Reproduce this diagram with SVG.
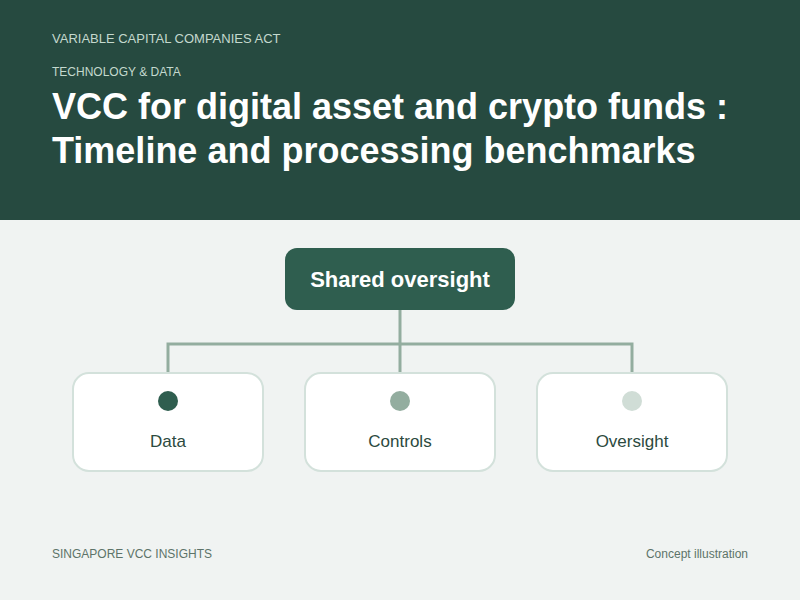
<svg xmlns="http://www.w3.org/2000/svg" width="800" height="600" viewBox="0 0 800 600">
<style>
text{font-family:"Liberation Sans",Arial,sans-serif}
.kicker{fill:#c4d9ce}
.title{fill:#ffffff;font-size:36px;font-weight:bold}
.child{fill:#ffffff;stroke:#d3e1db;stroke-width:2}
.lbl{fill:#2c4a40;font-size:17px;text-anchor:middle}
.conn{fill:none;stroke:#93ad9f;stroke-width:3}
.foot{fill:#5d7369;font-size:12px}
</style>
<rect width="800" height="600" fill="#f0f3f2"/>
<rect width="800" height="220" fill="#264a40"/>
<text x="52" y="43" class="kicker" font-size="13">VARIABLE CAPITAL COMPANIES ACT</text>
<text x="52" y="76" class="kicker" font-size="12">TECHNOLOGY &amp; DATA</text>
<text x="52" y="119" class="title">VCC for digital asset and crypto funds :</text>
<text x="52" y="163" class="title">Timeline and processing benchmarks</text>
<g id="connectors">
<path class="conn" d="M400 310V344M168 372V344H632V372M400 344V372"/>
</g>
<g id="root">
<rect x="285" y="248" width="230" height="62" rx="12" fill="#2f5e4f"/>
<text x="400" y="287" fill="#ffffff" font-size="22" font-weight="bold" text-anchor="middle">Shared oversight</text>
</g>
<g id="data">
<rect class="child" x="73" y="373" width="190" height="98" rx="16"/>
<circle cx="168" cy="401" r="10" fill="#2f5e4f"/>
<text x="168" y="447" class="lbl">Data</text>
</g>
<g id="controls">
<rect class="child" x="305" y="373" width="190" height="98" rx="16"/>
<circle cx="400" cy="401" r="10" fill="#93ad9f"/>
<text x="400" y="447" class="lbl">Controls</text>
</g>
<g id="oversight">
<rect class="child" x="537" y="373" width="190" height="98" rx="16"/>
<circle cx="632" cy="401" r="10" fill="#d0ddd6"/>
<text x="632" y="447" class="lbl">Oversight</text>
</g>
<text x="52" y="558" class="foot">SINGAPORE VCC INSIGHTS</text>
<text x="748" y="558" class="foot" text-anchor="end">Concept illustration</text>
</svg>
